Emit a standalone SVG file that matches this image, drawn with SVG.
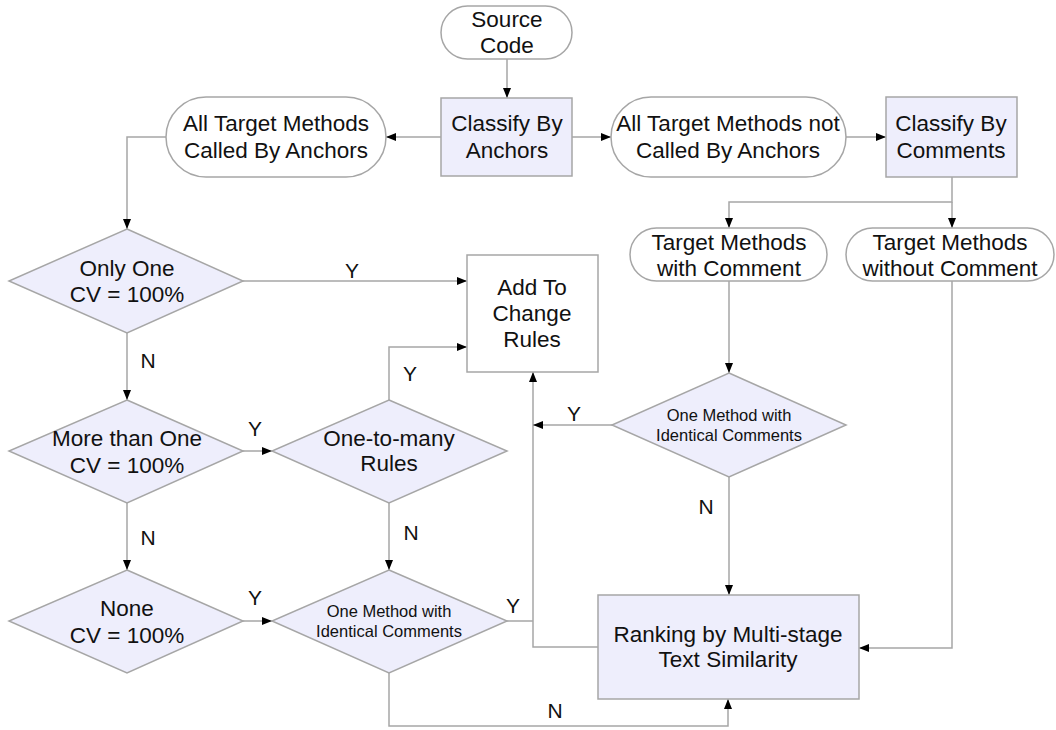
<svg xmlns="http://www.w3.org/2000/svg" width="1056" height="730" viewBox="0 0 1056 730">
<defs>
<style>
.shape{stroke:#a6a6a6;stroke-width:1.5;fill:#eeeefc}
.white{fill:#ffffff}
.t{font-family:"Liberation Sans",Arial,sans-serif;font-size:22.5px;fill:#111;text-anchor:middle}
.s{font-size:16.5px}
.lab{font-family:"Liberation Sans",Arial,sans-serif;font-size:21px;fill:#111;text-anchor:middle}
.c{fill:none;stroke:#a6a6a6;stroke-width:1.5}
</style>
<marker id="ah" markerUnits="userSpaceOnUse" markerWidth="10" markerHeight="10" viewBox="0 0 10 10" refX="10" refY="5" orient="auto">
<path d="M0,1 L10,5 L0,9 Z" fill="#000"/>
</marker>
</defs>
<rect width="1056" height="730" fill="#fff"/>
<g id="connectors">
<path class="c" d="M507,59 V98" marker-end="url(#ah)"/>
<path class="c" d="M441,137 H386" marker-end="url(#ah)"/>
<path class="c" d="M572,137 H611" marker-end="url(#ah)"/>
<path class="c" d="M846,137 H886" marker-end="url(#ah)"/>
<path class="c" d="M952,177 V202 H729 V228" marker-end="url(#ah)"/>
<path class="c" d="M952,202 V228" marker-end="url(#ah)"/>
<path class="c" d="M166,137 H127 V229" marker-end="url(#ah)"/>
<path class="c" d="M243,281 H467" marker-end="url(#ah)"/>
<path class="c" d="M127,333 V400" marker-end="url(#ah)"/>
<path class="c" d="M243,451 H272" marker-end="url(#ah)"/>
<path class="c" d="M389,400 V347 H467" marker-end="url(#ah)"/>
<path class="c" d="M127,503 V570" marker-end="url(#ah)"/>
<path class="c" d="M389,503 V570" marker-end="url(#ah)"/>
<path class="c" d="M243,621 H272" marker-end="url(#ah)"/>
<path class="c" d="M507,621 H533"/>
<path class="c" d="M598,647 H533 V372" marker-end="url(#ah)"/>
<path class="c" d="M612,425 H533" marker-end="url(#ah)"/>
<path class="c" d="M729,281 V373" marker-end="url(#ah)"/>
<path class="c" d="M729,477 V595" marker-end="url(#ah)"/>
<path class="c" d="M389,673 V726 H728 V699" marker-end="url(#ah)"/>
<path class="c" d="M952,281 V648 H859" marker-end="url(#ah)"/>
<text class="lab" x="352" y="278">Y</text>
<text class="lab" x="148" y="368">N</text>
<text class="lab" x="410" y="381">Y</text>
<text class="lab" x="255" y="436">Y</text>
<text class="lab" x="148" y="545">N</text>
<text class="lab" x="411" y="540">N</text>
<text class="lab" x="255" y="605">Y</text>
<text class="lab" x="513" y="613">Y</text>
<text class="lab" x="574" y="421">Y</text>
<text class="lab" x="706" y="514">N</text>
<text class="lab" x="555" y="718">N</text>
</g>
<g id="source-code">
<rect class="shape white" x="441" y="6" width="131" height="53" rx="26.5"/>
<text class="t" x="507" y="27">Source</text>
<text class="t" x="507" y="53">Code</text>
</g>
<g id="classify-anchors">
<rect class="shape" x="441" y="98" width="131" height="78"/>
<text class="t" x="507" y="131">Classify By</text>
<text class="t" x="507" y="158">Anchors</text>
</g>
<g id="called-by-anchors">
<rect class="shape white" x="166" y="97" width="220" height="80" rx="40"/>
<text class="t" x="276" y="131">All Target Methods</text>
<text class="t" x="276" y="158">Called By Anchors</text>
</g>
<g id="not-called-by-anchors">
<rect class="shape white" x="611" y="97" width="235" height="80" rx="40"/>
<text class="t" x="728" y="131">All Target Methods not</text>
<text class="t" x="728" y="158">Called By Anchors</text>
</g>
<g id="classify-comments">
<rect class="shape" x="886" y="97" width="131" height="80"/>
<text class="t" x="951" y="131">Classify By</text>
<text class="t" x="951" y="158">Comments</text>
</g>
<g id="with-comment">
<rect class="shape white" x="630" y="228" width="197" height="53" rx="26.5"/>
<text class="t" x="729" y="250">Target Methods</text>
<text class="t" x="729" y="276">with Comment</text>
</g>
<g id="without-comment">
<rect class="shape white" x="846" y="228" width="208" height="53" rx="26.5"/>
<text class="t" x="950" y="250">Target Methods</text>
<text class="t" x="950" y="276">without Comment</text>
</g>
<g id="only-one">
<polygon class="shape" points="127,229 243,281 127,333 9,281"/>
<text class="t" x="127" y="276">Only One</text>
<text class="t" x="127" y="302">CV = 100%</text>
</g>
<g id="add-rules">
<rect class="shape white" x="467" y="255" width="131" height="117"/>
<text class="t" x="532" y="295">Add To</text>
<text class="t" x="532" y="321">Change</text>
<text class="t" x="532" y="347">Rules</text>
</g>
<g id="more-than-one">
<polygon class="shape" points="127,400 243,451 127,503 9,451"/>
<text class="t" x="127" y="446">More than One</text>
<text class="t" x="127" y="473">CV = 100%</text>
</g>
<g id="one-to-many">
<polygon class="shape" points="389,400 507,451 389,503 272,451"/>
<text class="t" x="389" y="446">One-to-many</text>
<text class="t" x="389" y="471">Rules</text>
</g>
<g id="right-identical">
<polygon class="shape" points="729,373 846,425 729,477 612,425"/>
<text class="t s" x="729" y="421">One Method with</text>
<text class="t s" x="729" y="441">Identical Comments</text>
</g>
<g id="none">
<polygon class="shape" points="127,570 243,621 127,673 9,621"/>
<text class="t" x="127" y="616">None</text>
<text class="t" x="127" y="643">CV = 100%</text>
</g>
<g id="bottom-identical">
<polygon class="shape" points="389,570 507,621 389,673 272,621"/>
<text class="t s" x="389" y="617">One Method with</text>
<text class="t s" x="389" y="637">Identical Comments</text>
</g>
<g id="ranking">
<rect class="shape" x="598" y="595" width="261" height="104"/>
<text class="t" x="728" y="642">Ranking by Multi-stage</text>
<text class="t" x="728" y="667">Text Similarity</text>
</g>
</svg>
